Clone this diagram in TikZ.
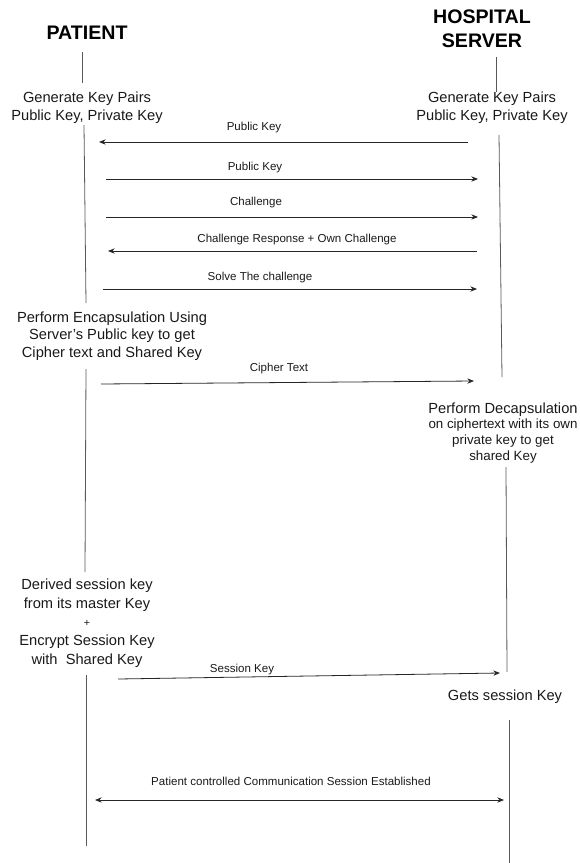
\documentclass[tikz,border=0pt]{standalone}
\usepackage{fontspec}
\setmainfont{Liberation Sans}
\usetikzlibrary{arrows.meta}
\begin{document}
\begin{tikzpicture}[x=0.75pt,y=-0.75pt]
			\tikzset{>={Stealth[length=5pt,width=4pt]}}
			\tikzset{actor/.style={font=\bfseries\fontsize{14.7}{18}\selectfont,align=center,inner sep=0pt},
				note/.style={font=\fontsize{11}{13.3}\selectfont,align=center,inner sep=0pt,black!90},
				msgtext/.style={font=\fontsize{8.65}{10}\selectfont,inner sep=0pt,black!90},
				msg/.style={->,black!85,line width=0.6pt},
				life/.style={black!65,line width=0.6pt}}
			\useasboundingbox (0,0) rectangle (579,863);

			\node[actor] (patient) at (87,33) {PATIENT};
			\node[actor] (server) at (482,29) {HOSPITAL\\SERVER};

			\node[note] (pgen) at (87,108) {Generate Key Pairs\\Public Key, Private Key};
			\node[note] (sgen) at (492,108) {Generate Key Pairs\\Public Key, Private Key};
			\node[note] (encap) at (112,336) {Perform Encapsulation Using\\Server's Public key to get\\Cipher text and Shared Key};
			\node[note] (decap) at (503,433) {Perform Decapsulation\\[-1.8pt]
				{\fontsize{10}{12}\selectfont on ciphertext with its own}\\[-1.5pt]
				{\fontsize{10}{12}\selectfont private key to get}\\[-1.2pt]
				{\fontsize{10}{12}\selectfont shared Key}};
			\node[note] (derive) at (87,623) {Derived session key\\[0.6pt]from its master Key\\[0.6pt]{\fontsize{8}{10}\selectfont +}\strut\\[1.2pt]Encrypt Session Key\\[0.3pt]with~ Shared Key};
			\node[note] (gets) at (505,697) {Gets session Key};

			% message labels
			\node[msgtext] (t1) at (254,128) {Public Key};
			\node[msgtext] (t2) at (255,168) {Public Key};
			\node[msgtext] (t3) at (256,203) {Challenge};
			\node[msgtext] (t4) at (297,240) {Challenge Response + Own Challenge};
			\node[msgtext] (t5) at (260,278) {Solve The challenge};
			\node[msgtext] (t6) at (279,369) {Cipher Text};
			\node[msgtext] (t7) at (242,670) {Session Key};
			\node[msgtext] (t8) at (291,781) {Patient controlled Communication Session Established};

			% lifelines
			\foreach \xa/\ya/\xb/\yb in {82/52/82/83, 84/125/86/303, 86/369/85/572, 86/675/86/846,
				496/57/496/92, 499/135/502/377, 506/467/507/672, 509/720/509/863}
				\draw[life] (\xa,\ya) -- (\xb,\yb);

			% messages
			\foreach \n/\xa/\ya/\xb/\yb in {1/468/142/99/142, 2/106/179/478/179, 3/106/217/478/217,
				4/477/251/108/251, 5/103/289/477/289, 6/101/384/474/381, 7/118/679/500/673}
			{
				\coordinate (m\n a) at (\xa,\ya);
				\coordinate (m\n b) at (\xb,\yb);
				\draw[msg] (m\n a) -- (m\n b);
			}
			\coordinate (m8a) at (95,800);
			\coordinate (m8b) at (504,800);
			\draw[msg,<->] (m8a) -- (m8b);
		\end{tikzpicture}
\end{document}
